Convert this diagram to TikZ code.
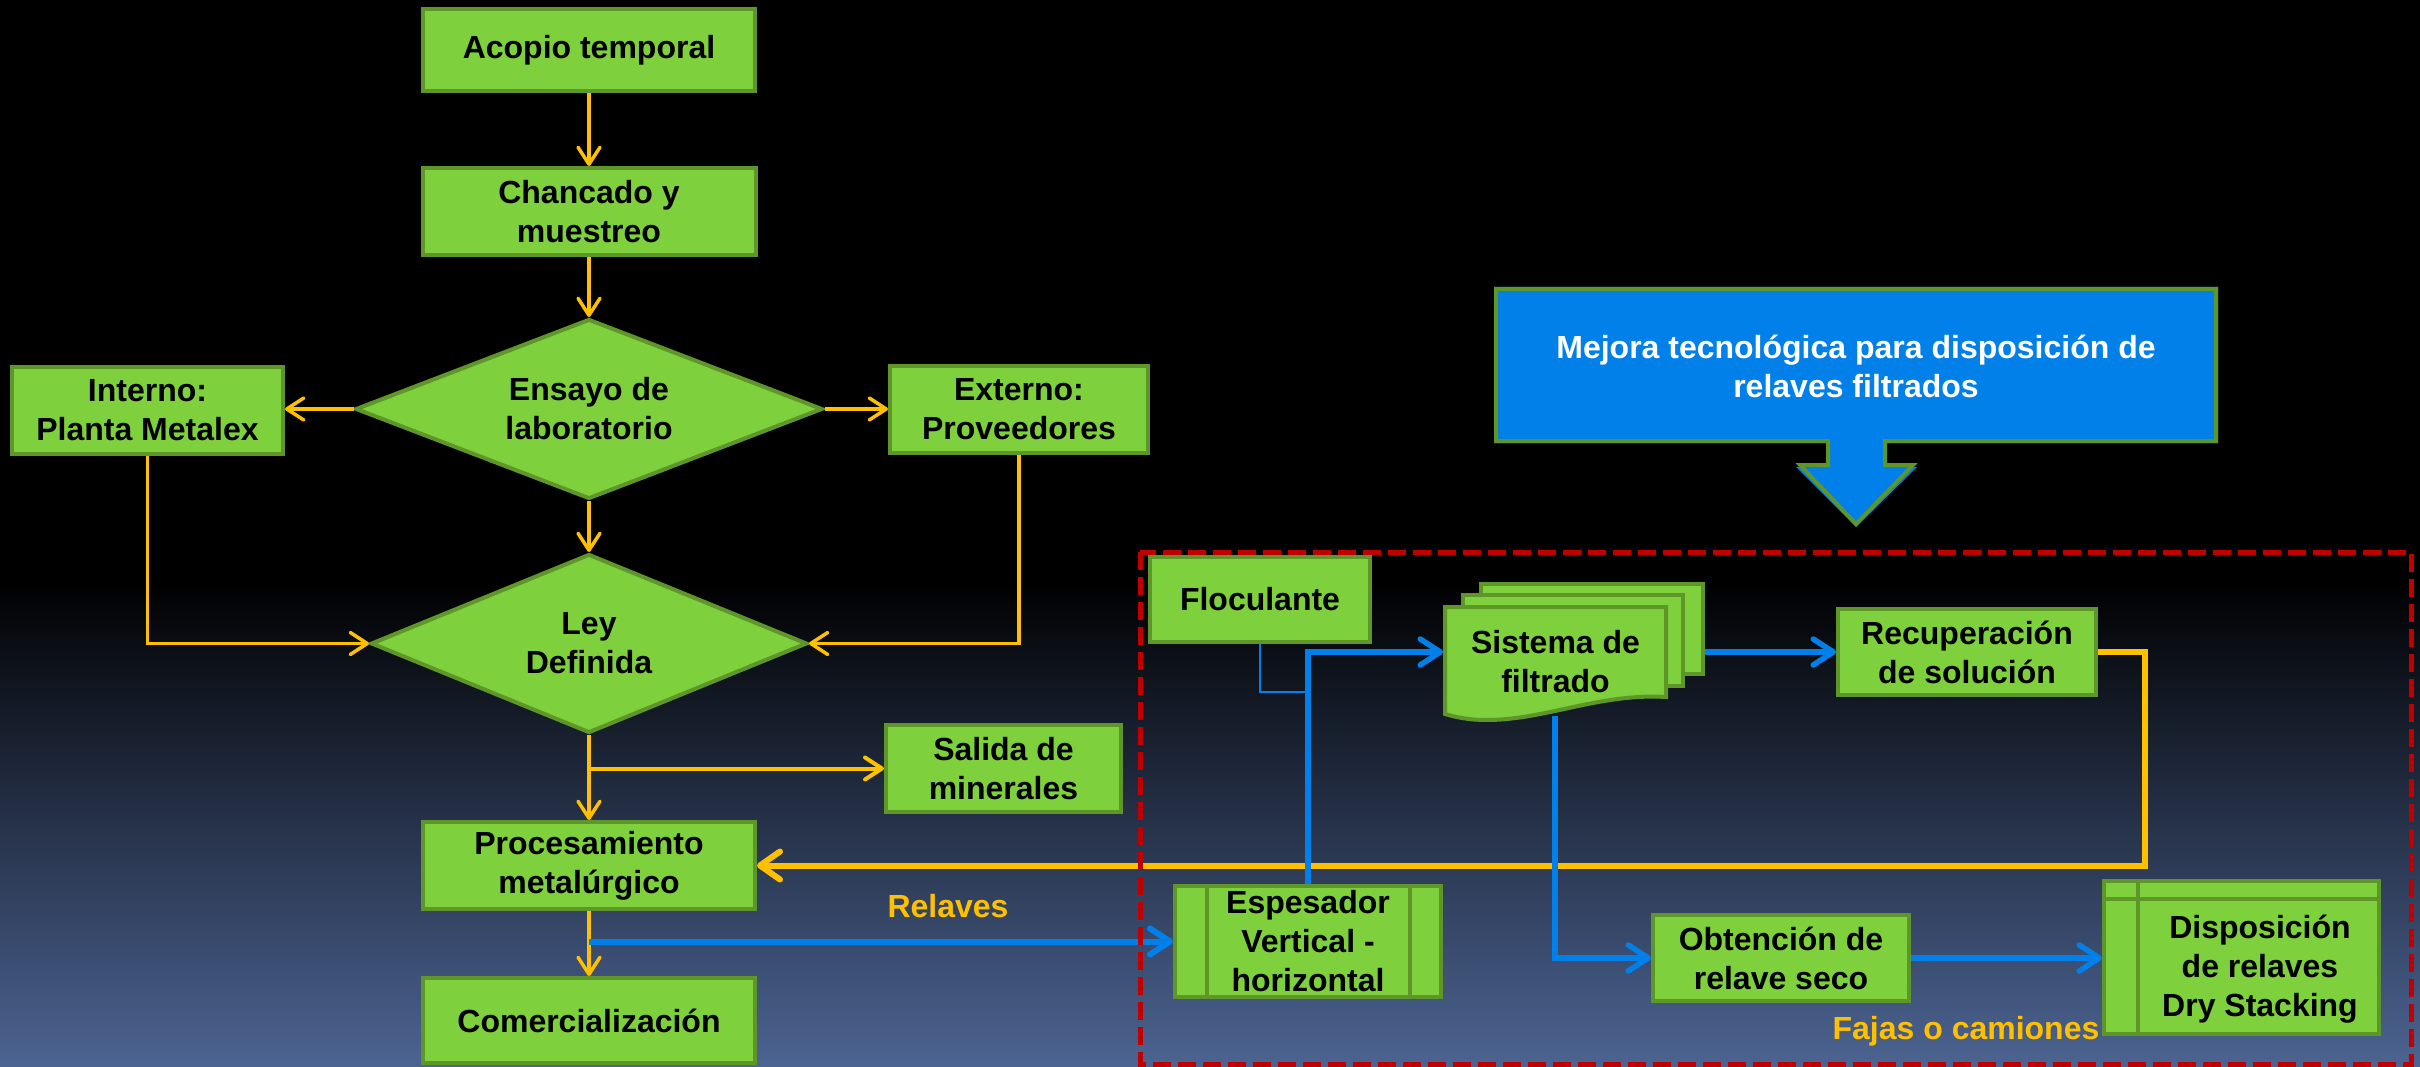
\documentclass[tikz,border=0pt]{standalone}
\usepackage{fontspec}
\setmainfont{Liberation Sans}
\usetikzlibrary{shapes.geometric,arrows.meta}
\definecolor{gfill}{RGB}{126,208,60}
\definecolor{gdraw}{RGB}{94,150,42}
\definecolor{orng}{RGB}{255,192,0}
\definecolor{blu}{RGB}{0,128,232}
\definecolor{redd}{RGB}{192,0,0}
\definecolor{bgb}{RGB}{76,100,146}
\begin{document}
\begin{tikzpicture}[x=1pt,y=-1pt,
  txt/.style={inner sep=0pt, align=center, font=\fontsize{32}{39}\selectfont\bfseries},
  box/.style={txt, draw=gdraw, fill=gfill, line width=4pt},
  dia/.style={box, shape=diamond},
  oarr/.style={draw=orng, line width=3.5pt, -{Straight Barb[length=17pt,width=22pt,round]}},
  oarrthick/.style={draw=orng, line width=6pt, -{Straight Barb[length=20pt,width=28pt,round]}},
  barr/.style={draw=blu, line width=5.5pt, -{Straight Barb[length=20pt,width=26pt,round]}},
  bthin/.style={draw=blu, line width=2.5pt},
  shapeline/.style={draw=gdraw, line width=4pt}
]
\useasboundingbox (0,0) rectangle (2420,1067);
% background
\fill[black] (0,0) rectangle (2420,1067);
\shade[top color=black, bottom color=bgb] (0,580) rectangle (2420,1067);

% left flow
\node[box, minimum width=332pt, minimum height=82pt] (acopio) at (589,50) {Acopio temporal};
\node[box, minimum width=333pt, minimum height=87pt] (chanc) at (589,211.5) {Chancado y\\muestreo};
\node[dia, aspect=2.56, minimum width=467pt, minimum height=180pt] (ensayo) at (589,409) {Ensayo de\\laboratorio};
\node[box, minimum width=271pt, minimum height=87pt] (interno) at (147.5,410.5) {Interno:\\Planta Metalex};
\node[box, minimum width=258pt, minimum height=87pt] (externo) at (1019,409.5) {Externo:\\Proveedores};
\node[dia, aspect=2.4, minimum width=436pt, minimum height=179pt] (ley) at (589,643.5) {Ley\\Definida};
\node[box, minimum width=235pt, minimum height=87pt] (salida) at (1003.5,768.5) {Salida de\\minerales};
\node[box, minimum width=332pt, minimum height=87pt] (proc) at (589,865.5) {Procesamiento\\metalúrgico};
\node[box, minimum width=332pt, minimum height=85pt] (comer) at (589,1020.5) {Comercialización};

% callout
\fill[blu] (1494,287) -- (2218,287) -- (2218,443) -- (1887,443) -- (1887,467) -- (1917,467)
  -- (1856,527) -- (1796,467) -- (1826,467) -- (1826,443) -- (1494,443) -- cycle;
\draw[shapeline, line join=miter] (1496,289) -- (2216,289) -- (2216,441) -- (1885,441) -- (1885,465) -- (1913,465)
  -- (1856,524) -- (1800,465) -- (1828,465) -- (1828,441) -- (1496,441) -- cycle;
\node[txt, text=white] (callout) at (1856,366) {Mejora tecnológica para disposición de\\relaves filtrados};

% right group
\node[box, minimum width=220pt, minimum height=85pt] (floc) at (1260,599.5) {Floculante};
\filldraw[shapeline, fill=gfill] (1481,584) rectangle (1703,674);
\filldraw[shapeline, fill=gfill] (1463,595) rectangle (1683,686);
\filldraw[shapeline, fill=gfill] (1445,607) -- (1666,607) -- (1666,697)
  .. controls (1600,693) and (1545,720) .. (1487,720)
  .. controls (1468,720) and (1455,717) .. (1445,714) -- cycle;
\node[txt, minimum width=225pt, minimum height=114pt, outer sep=0pt] (sis) at (1555.5,662) {Sistema de\\filtrado};
\coordinate (sisR) at (1705,652);
\coordinate (sisB) at (1555,716);
\node[box, minimum width=258pt, minimum height=86pt] (recup) at (1967,652) {Recuperación\\de solución};
\node[box, minimum width=266pt, minimum height=111pt] (esp) at (1308,941.5) {Espesador\\Vertical -\\horizontal};
\draw[shapeline] ([xshift=34pt]esp.north west) -- ([xshift=34pt]esp.south west);
\draw[shapeline] ([xshift=-33pt]esp.north east) -- ([xshift=-33pt]esp.south east);
\node[box, minimum width=256pt, minimum height=86pt] (obt) at (1781,958) {Obtención de\\relave seco};
\node[box, minimum width=275pt, minimum height=153pt] (dispbox) at (2241.5,957.5) {};
\draw[shapeline] ([xshift=36pt]dispbox.north west) -- ([xshift=36pt]dispbox.south west);
\draw[shapeline] ([yshift=-20pt]dispbox.north west) -- ([yshift=-20pt]dispbox.north east);
\node[txt] (disptxt) at (2260,969) {Disposición\\de relaves\\Dry Stacking};

% labels
\node[txt, text=orng] (relaves) at (948,906) {Relaves};
\node[txt, text=orng] (fajas) at (1966,1031) {Fajas o camiones};

% orange connectors
\draw[oarr] (acopio.south) -- (chanc.north);
\draw[oarr] (chanc.south) -- (ensayo.north);
\draw[oarr] (ensayo.west) -- (ensayo.west -| interno.east);
\draw[oarr] (ensayo.east) -- (ensayo.east -| externo.west);
\draw[oarr] (ensayo.south) -- (ley.north);
\draw[oarr] (interno.south) |- (ley.west);
\draw[oarr] (externo.south) |- (ley.east);
\draw[oarr] (ley.south) -- (proc.north);
\draw[oarr, line width=4pt] (ley.south |- salida.west) -- (salida.west);
\draw[oarr] (proc.south) -- (comer.north);
\draw[oarrthick] (recup.east) -- ++(47,0) |- (proc.east);

% blue connectors
\draw[barr, line width=6pt] (proc.south |- esp.west) -- (esp.west);
\draw[barr] (esp.north) |- ([yshift=10pt]sis.west);
\draw[bthin] (floc.south) |- (1308,692);
\draw[barr] (sisR) -- (recup.west);
\draw[barr] (sisB) |- (obt.west);
\draw[barr] (obt.east) -- (obt.east -| dispbox.west);

% dashed frame
\draw[redd, line width=5pt, dash pattern=on 18pt off 7pt] (1140,552) rectangle (2411,1064);
\end{tikzpicture}
\end{document}
